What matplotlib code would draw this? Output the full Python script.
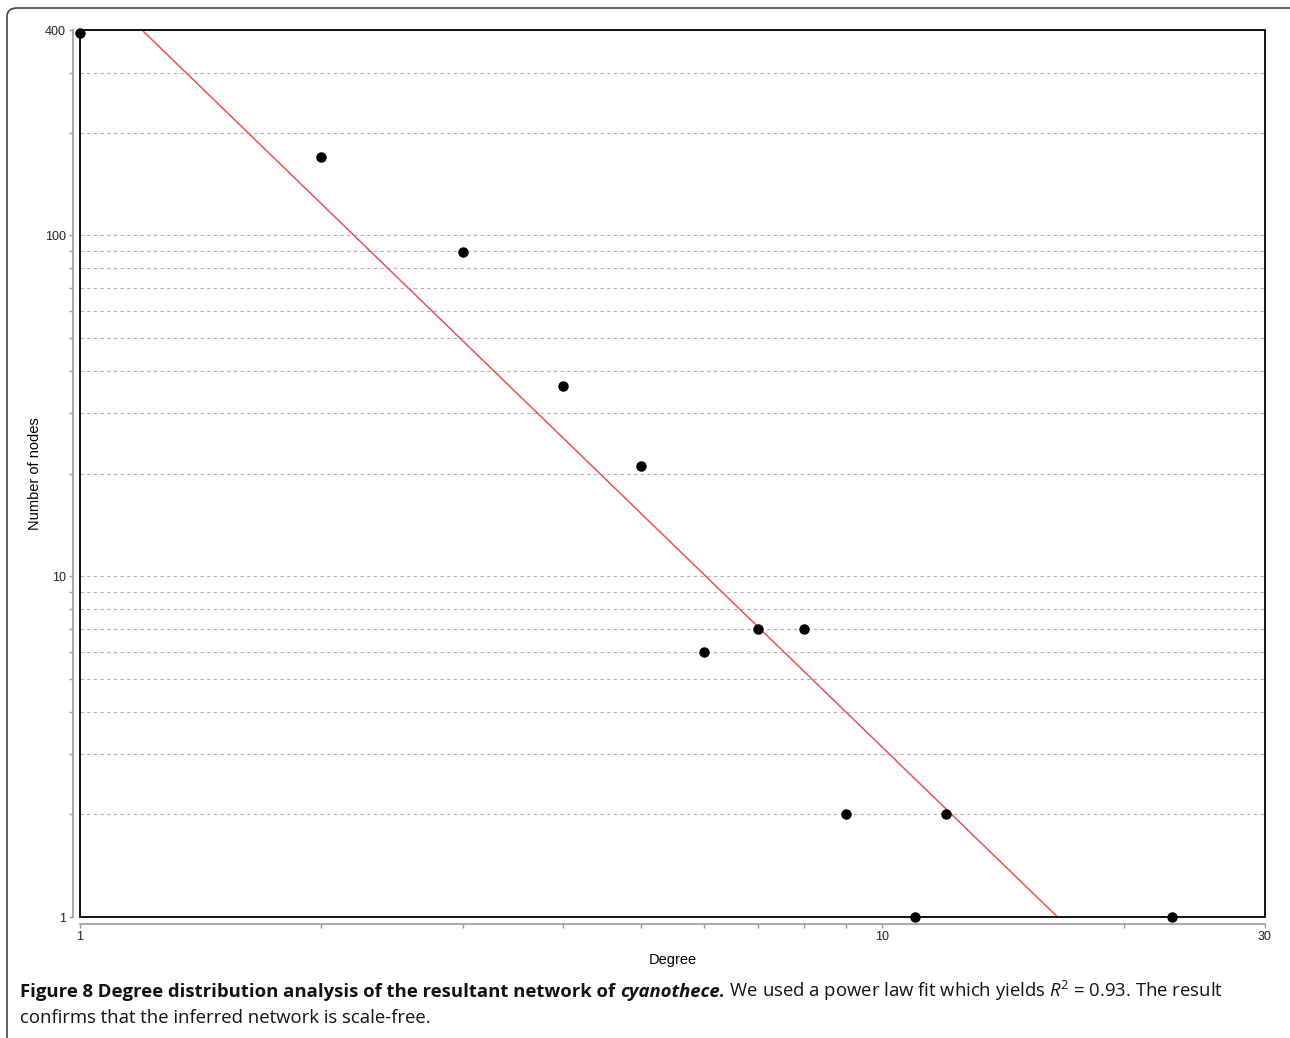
import numpy as np
import matplotlib
matplotlib.use("Agg")
import matplotlib.pyplot as plt
from matplotlib.patches import Rectangle, FancyBboxPatch
from matplotlib.ticker import FixedLocator, NullFormatter

# degree distribution
degree = [1, 2, 3, 4, 5, 6, 7, 8, 9, 11, 12, 23]
nodes = [392, 170, 89, 36, 21, 6, 7, 7, 2, 1, 2, 1]

# power law fit y = a * x^b
fit_a = 600
fit_b = -2.28
fit_x = [1.2, 16.6]

y_major = [1, 10, 100, 400]
y_minor = [2, 3, 4, 5, 6, 7, 8, 9, 20, 30, 40, 50, 60, 70, 80, 90, 200, 300]
x_major = [1, 10, 30]
x_minor = [2, 3, 4, 5, 6, 7, 8, 9, 20]

W, H = 1290, 1038
fig = plt.figure(figsize=(W / 100, H / 100), dpi=100)
ax = fig.add_axes([80 / W, 1 - 917 / H, (1265 - 80) / W, (917 - 30) / H])
ax.set_xscale("log")
ax.set_yscale("log")
ax.set_xlim(1, 30)
ax.set_ylim(1, 400)

# grid lines at every y tick
for v in y_major + y_minor:
    ax.axhline(v, color="#b0b0b0", lw=0.8, ls=(0, (3, 3)), zorder=1)

fx = np.geomspace(fit_x[0], fit_x[1], 50)
ax.plot(fx, fit_a * fx ** fit_b, color="#f05050", lw=1.1, zorder=2)
ax.plot(degree, nodes, "o", color="black", ms=6.5, clip_on=False, zorder=3)

ax.yaxis.set_major_locator(FixedLocator(y_major))
ax.yaxis.set_minor_locator(FixedLocator(y_minor))
ax.set_yticklabels([str(v) for v in y_major])
ax.yaxis.set_minor_formatter(NullFormatter())
ax.xaxis.set_major_locator(FixedLocator(x_major))
ax.xaxis.set_minor_locator(FixedLocator(x_minor))
ax.set_xticklabels([str(v) for v in x_major])
ax.xaxis.set_minor_formatter(NullFormatter())

for side in ["left", "bottom"]:
    ax.spines[side].set_position(("outward", 5))
    ax.spines[side].set_color("#999999")
    ax.spines[side].set_linewidth(1.2)
for side in ["top", "right"]:
    ax.spines[side].set_visible(False)
ax.add_patch(Rectangle((0, 0), 1, 1, transform=ax.transAxes, fill=False,
                       ec="black", lw=1.3, clip_on=False, zorder=4))

ax.tick_params(which="both", direction="out", length=3, color="#999999", width=1)
ax.tick_params(which="major", labelsize=9, labelcolor="#222222", pad=2)
for lab in ax.get_xticklabels() + ax.get_yticklabels():
    lab.set_fontfamily("Liberation Sans")

ax.set_xlabel("Degree", fontsize=10.5, family="Liberation Sans", labelpad=7)
ax.set_ylabel("Number of nodes", fontsize=10.5, family="Liberation Sans", labelpad=2)

# rounded frame of the figure box
fig.add_artist(FancyBboxPatch((7 / W, -0.02), 1.1, (1038 - 8) / H + 0.02,
                              boxstyle="round,pad=0,rounding_size=0.008",
                              transform=fig.transFigure, fill=False,
                              ec="#444444", lw=1.2))

# caption with mixed styles, placed piece by piece
renderer = fig.canvas.get_renderer()
cap_font = "Open Sans"
cap_size = 13.3
plt.rcParams["mathtext.fontset"] = "custom"
plt.rcParams["mathtext.it"] = "Open Sans:italic"
plt.rcParams["mathtext.rm"] = "Open Sans"
pieces = [
    ("Figure 8 Degree distribution analysis of the resultant network of ", "bold", "normal"),
    ("cyanothece", "bold", "italic"),
    (".", "bold", "normal"),
    (" We used a power law fit which yields $R^2$ = 0.93. The result", "normal", "normal"),
]
xpos = 20
for txt, wt, st in pieces:
    t = fig.text(xpos / W, 1 - 997 / H, txt, fontsize=cap_size, family=cap_font,
                 weight=wt, style=st, color="#111111", va="baseline")
    bb = t.get_window_extent(renderer)
    xpos += bb.width
fig.text(20 / W, 1 - 1023 / H, "confirms that the inferred network is scale-free.",
         fontsize=cap_size, family=cap_font, color="#111111", va="baseline")

fig.savefig("out.png", dpi=100)
